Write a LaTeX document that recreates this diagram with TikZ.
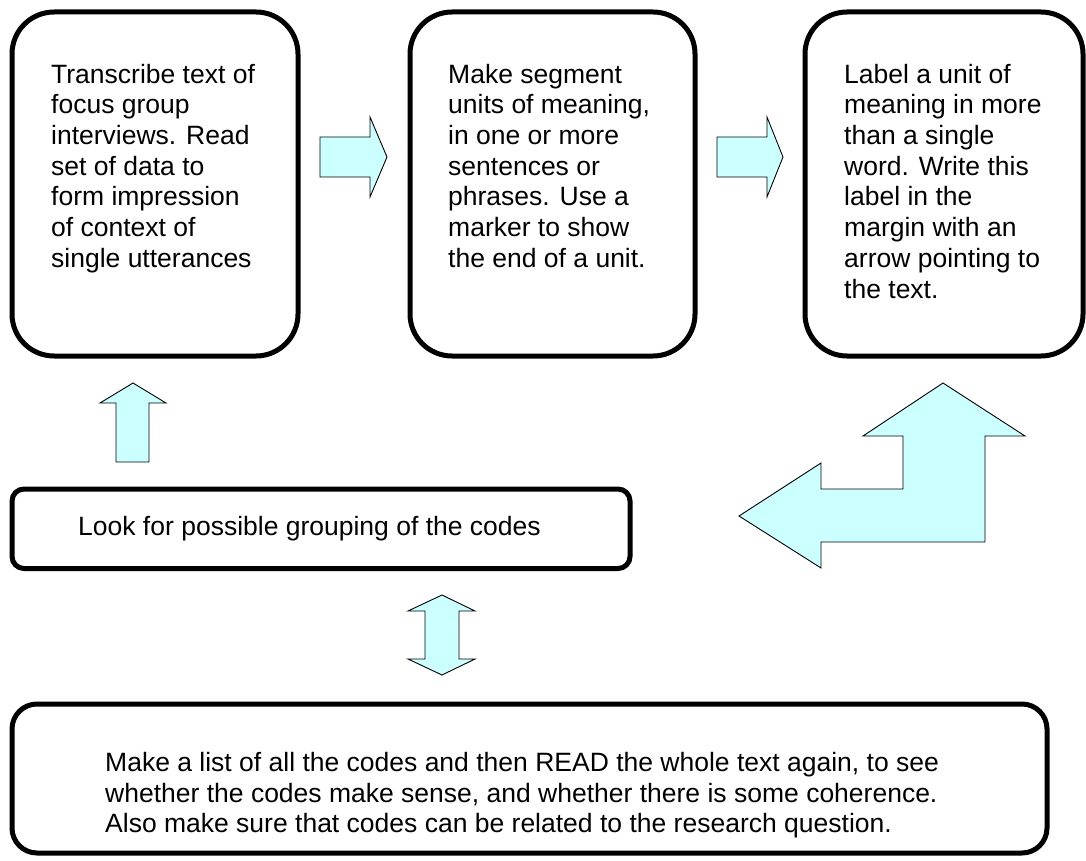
\documentclass[tikz,border=0pt]{standalone}
\usepackage{fontspec}
\setmainfont{Liberation Sans}
\definecolor{arrowcyan}{HTML}{CCFFFF}
\begin{document}
\begin{tikzpicture}[x=1pt,y=-1pt,
  stage/.style={draw=black, line width=5pt, rounded corners=42pt, inner sep=0pt},
  txt/.style={anchor=north west, inner sep=0pt, align=left, font=\fontsize{26.5}{30.7}\selectfont},
  blk/.style={draw=black, line width=0.9pt, fill=arrowcyan, line join=miter}]
\useasboundingbox (0,0) rectangle (1086,861);
% stage boxes
\node[stage, minimum width=286pt, minimum height=344pt] (b1) at (155,184) {};
\node[stage, minimum width=285pt, minimum height=344pt] (b2) at (552.5,184) {};
\node[stage, minimum width=278pt, minimum height=344pt] (b3) at (944,184) {};
\node[stage, rounded corners=12pt, minimum width=618pt, minimum height=79.5pt] (b4) at (321,528.75) {};
\node[stage, rounded corners=25pt, minimum width=1035pt, minimum height=149pt] (b5) at (529.5,778.5) {};
% texts
\node[txt] (t1) at (51,63.7) {Transcribe text of\\focus group\\interviews. Read\\set of data to\\form impression\\of context of\\single utterances};
\node[txt] (t2) at (448,63.7) {Make segment\\units of meaning,\\in one or more\\sentences or\\phrases. Use a\\marker to show\\the end of a unit.};
\node[txt] (t3) at (844,63.7) {Label a unit of\\meaning in more\\than a single\\word. Write this\\label in the\\margin with an\\arrow pointing to\\the text.};
\node[txt] (t4) at (78,516) {Look for possible grouping of the codes};
\node[txt] (t5) at (105,752) {Make a list of all the codes and then READ the whole text again, to see\\whether the codes make sense, and whether there is some coherence.\\Also make sure that codes can be related to the research question.};
% block arrows
\draw[blk] (320,137) -- (370,137) -- (370,117) -- (387,157) -- (370,197) -- (370,177) -- (320,177) -- cycle;
\draw[blk] (717,137) -- (767,137) -- (767,117) -- (783,157) -- (767,197) -- (767,177) -- (717,177) -- cycle;
\draw[blk] (133,383) -- (166,403) -- (149,403) -- (149,462) -- (116,462) -- (116,403) -- (100,403) -- cycle;
\draw[blk] (442,595) -- (475,611) -- (459,611) -- (459,659) -- (475,659) -- (442,675) -- (408,659) -- (425,659) -- (425,611) -- (408,611) -- cycle;
\draw[blk] (943,383) -- (1025,436) -- (985,436) -- (985,542) -- (821,542) -- (821,568) -- (739,516) -- (821,463) -- (821,489) -- (903,489) -- (903,436) -- (863,436) -- cycle;
\end{tikzpicture}
\end{document}
